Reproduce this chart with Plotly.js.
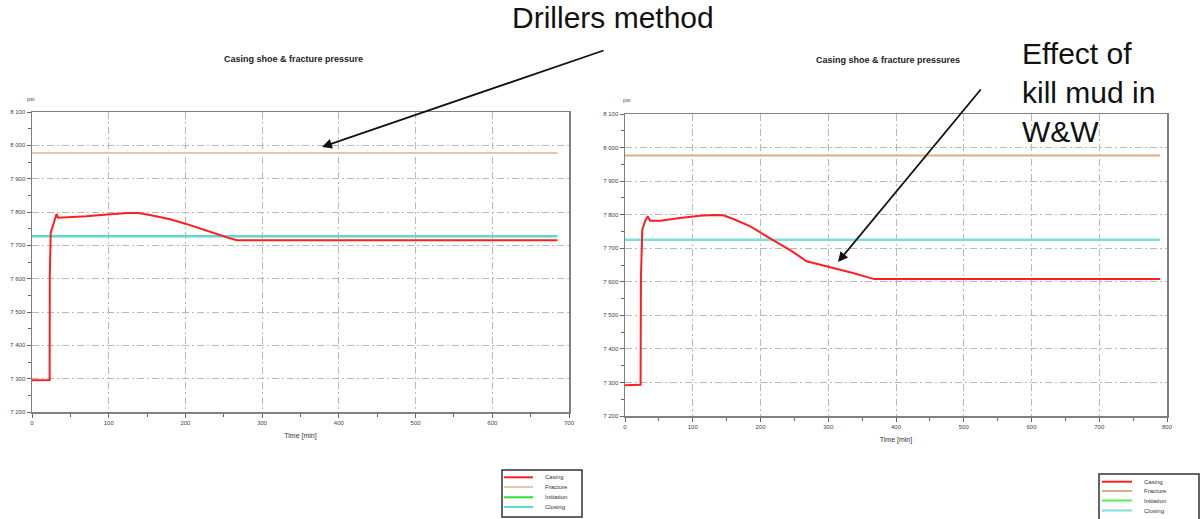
<!DOCTYPE html>
<html>
<head>
<meta charset="utf-8">
<script src="https://cdn.plot.ly/plotly-3.0.1.min.js"></script>
<style>
  html, body { margin: 0; padding: 0; background: #fff; }
  #chart { width: 1203px; height: 519px; }
</style>
</head>
<body>
<div id="chart"></div>
<script>
// Legend entries shared by both panels
const seriesNames = ['Casing', 'Fracture', 'Initiation', 'Closing'];

// Panel 1: Drillers method (time in min, pressure in psi)
const drillTime   = [0, 22, 23, 23.2, 24.4, 27, 30, 32, 34, 50, 71, 90, 110, 125, 137, 145, 160, 180, 200, 215, 230, 245, 258, 267, 685];
const drillCasing = [7295, 7295, 7296, 7610, 7738, 7757, 7776, 7794, 7783, 7784, 7787, 7791, 7795, 7797, 7797, 7795, 7788, 7778, 7765, 7753, 7742, 7731, 7721, 7715, 7715];
const drillLineTime  = [0, 685];
const drillFracture  = [7977, 7977];
const drillClosing   = [7727, 7727];
const drillInitiation = [null];

// Panel 2: Wait & Weight (kill mud)
const wwTime   = [0, 22, 23, 23.5, 25.5, 29.5, 33.5, 37, 52, 81, 111, 130, 145, 160, 185, 216, 245, 268, 300, 335, 368, 790];
const wwCasing = [7292, 7292, 7293, 7610, 7755, 7780, 7795, 7782, 7782, 7790, 7797, 7799, 7798, 7787, 7765, 7727, 7693, 7661, 7645, 7627, 7608, 7608];
const wwLineTime  = [0, 790];
const wwFracture  = [7976, 7976];
const wwClosing   = [7725, 7725];
const wwInitiation = [null];

// Axis ticks
const timeTickStep = 100;
const psiTickStep = 100;
const leftTimeRange = [0, 700];
const rightTimeRange = [0, 800];
const psiRange = [7200, 8100];

const W = 1203, H = 519;
const px = v => v / W;
const py = v => 1 - v / H;

const FONT = 'Liberation Sans, Arial, sans-serif';
const colors = {
  left:  { casing: '#ff1f1f', fracture: '#e6c6a4', initiation: '#2fdc2f', closing: '#5fd8cf' },
  right: { casing: '#ff1f1f', fracture: '#d8b086', initiation: '#55ee55', closing: '#7ddfd8' }
};

function xAxis(domain, range, anchor) {
  return {
    domain, range, anchor, tick0: 0, dtick: timeTickStep,
    ticks: 'outside', ticklen: 4, tickcolor: '#666', tickwidth: 1,
    minor: { ticks: 'outside', ticklen: 3, dtick: timeTickStep / 2, tickcolor: '#666', showgrid: false },
    showgrid: true, gridcolor: '#b8b8b8', gridwidth: 1, griddash: '7px,3px,2px,3px',
    showline: true, mirror: true, linecolor: '#808080', linewidth: 1.5, zeroline: false,
    tickfont: { family: FONT, size: 6, color: '#444' },
    title: { text: 'Time [min]', font: { family: FONT, size: 7, color: '#333' }, standoff: 8 },
    fixedrange: true
  };
}
function yAxis(domain, anchor) {
  return {
    domain, range: psiRange, anchor, tick0: 7200, dtick: psiTickStep,
    separatethousands: true,
    ticks: 'outside', ticklen: 4, tickcolor: '#666', tickwidth: 1,
    minor: { ticks: 'outside', ticklen: 3, dtick: psiTickStep / 2, tickcolor: '#666', showgrid: false },
    showgrid: true, gridcolor: '#b8b8b8', gridwidth: 1, griddash: '7px,3px,2px,3px',
    showline: true, mirror: true, linecolor: '#808080', linewidth: 1.5, zeroline: false,
    tickfont: { family: FONT, size: 6, color: '#444' },
    fixedrange: true
  };
}

function panelTraces(xa, ya, t, casing, lineT, frac, clos, init, c) {
  return [
    { x: lineT, y: frac, xaxis: xa, yaxis: ya, mode: 'lines', name: seriesNames[1], line: { color: c.fracture, width: 2 }, showlegend: false },
    { x: lineT.slice(0, init.length), y: init, xaxis: xa, yaxis: ya, mode: 'lines', name: seriesNames[2], line: { color: c.initiation, width: 2 }, showlegend: false },
    { x: lineT, y: clos, xaxis: xa, yaxis: ya, mode: 'lines', name: seriesNames[3], line: { color: c.closing, width: 2.5 }, showlegend: false },
    { x: t, y: casing, xaxis: xa, yaxis: ya, mode: 'lines', name: seriesNames[0], line: { color: c.casing, width: 2 }, showlegend: false }
  ];
}

const data = [
  ...panelTraces('x', 'y', drillTime, drillCasing, drillLineTime, drillFracture, drillClosing, drillInitiation, colors.left),
  ...panelTraces('x2', 'y2', wwTime, wwCasing, wwLineTime, wwFracture, wwClosing, wwInitiation, colors.right)
];

// Boxed legends drawn under each panel
function legendBox(box, lineX, textX, rowsY, c) {
  const shapes = [{
    type: 'rect', xref: 'paper', yref: 'paper',
    x0: px(box[0]), x1: px(box[1]), y0: py(box[3]), y1: py(box[2]),
    line: { color: '#333', width: 1.5 }, fillcolor: 'rgba(0,0,0,0)'
  }];
  const anns = [];
  const cols = [c.casing, c.fracture, c.initiation, c.closing];
  seriesNames.forEach((name, i) => {
    shapes.push({
      type: 'line', xref: 'paper', yref: 'paper',
      x0: px(lineX[0]), x1: px(lineX[1]), y0: py(rowsY[i]), y1: py(rowsY[i]),
      line: { color: cols[i], width: 2 }
    });
    anns.push({
      xref: 'paper', yref: 'paper', x: px(textX), y: py(rowsY[i]),
      xanchor: 'left', yanchor: 'middle', showarrow: false, text: name,
      font: { family: FONT, size: 6, color: '#333' }
    });
  });
  return { shapes, anns };
}

const legL = legendBox([502, 582, 470, 517], [504, 533], 543, [477.3, 487, 497.3, 507], colors.left);
const legR = legendBox([1099, 1199, 474, 520], [1102, 1132], 1142, [481.7, 491, 500.5, 510.5], colors.right);

const annotations = [
  { xref: 'paper', yref: 'paper', x: px(293), y: py(59), xanchor: 'center', yanchor: 'middle', showarrow: false,
    text: '<b>Casing shoe & fracture pressure</b>', font: { family: FONT, size: 9, color: '#222' } },
  { xref: 'paper', yref: 'paper', x: px(888), y: py(60), xanchor: 'center', yanchor: 'middle', showarrow: false,
    text: '<b>Casing shoe & fracture pressures</b>', font: { family: FONT, size: 9, color: '#222' } },
  { xref: 'paper', yref: 'paper', x: px(31), y: py(99), xanchor: 'center', yanchor: 'middle', showarrow: false,
    text: 'psi', font: { family: FONT, size: 6, color: '#555' } },
  { xref: 'paper', yref: 'paper', x: px(627), y: py(100), xanchor: 'center', yanchor: 'middle', showarrow: false,
    text: 'psi', font: { family: FONT, size: 6, color: '#555' } },
  { xref: 'paper', yref: 'paper', x: px(613), y: py(18), xanchor: 'center', yanchor: 'middle', showarrow: false,
    text: 'Drillers method', font: { family: FONT, size: 30, color: '#111' } },
  { xref: 'paper', yref: 'paper', x: px(1020), y: py(92), xanchor: 'left', yanchor: 'middle', align: 'left', showarrow: false,
    text: 'Effect of<br>kill mud in<br>W&W', font: { family: FONT, size: 30, color: '#111' } },
  { xref: 'paper', yref: 'paper', x: px(322), y: py(147), text: '', showarrow: true,
    ax: 605 - 322, ay: 50 - 147, arrowhead: 2, arrowsize: 1.1, arrowwidth: 1.8, arrowcolor: '#111' },
  { xref: 'paper', yref: 'paper', x: px(838), y: py(262), text: '', showarrow: true,
    ax: 982 - 838, ay: 88 - 262, arrowhead: 2, arrowsize: 1.1, arrowwidth: 1.8, arrowcolor: '#111' },
  ...legL.anns, ...legR.anns
];

const layout = {
  width: W, height: H,
  margin: { l: 0, r: 0, t: 0, b: 0, pad: 0 },
  paper_bgcolor: '#fff', plot_bgcolor: '#fff',
  separators: '. ',
  showlegend: false,
  xaxis:  xAxis([px(32), px(569)], leftTimeRange, 'y'),
  yaxis:  yAxis([py(412), py(112)], 'x'),
  xaxis2: xAxis([px(625), px(1167)], rightTimeRange, 'y2'),
  yaxis2: yAxis([py(416), py(114)], 'x2'),
  shapes: [...legL.shapes, ...legR.shapes],
  annotations
};

Plotly.newPlot('chart', data, layout, { displayModeBar: false, staticPlot: true });
</script>
</body>
</html>
